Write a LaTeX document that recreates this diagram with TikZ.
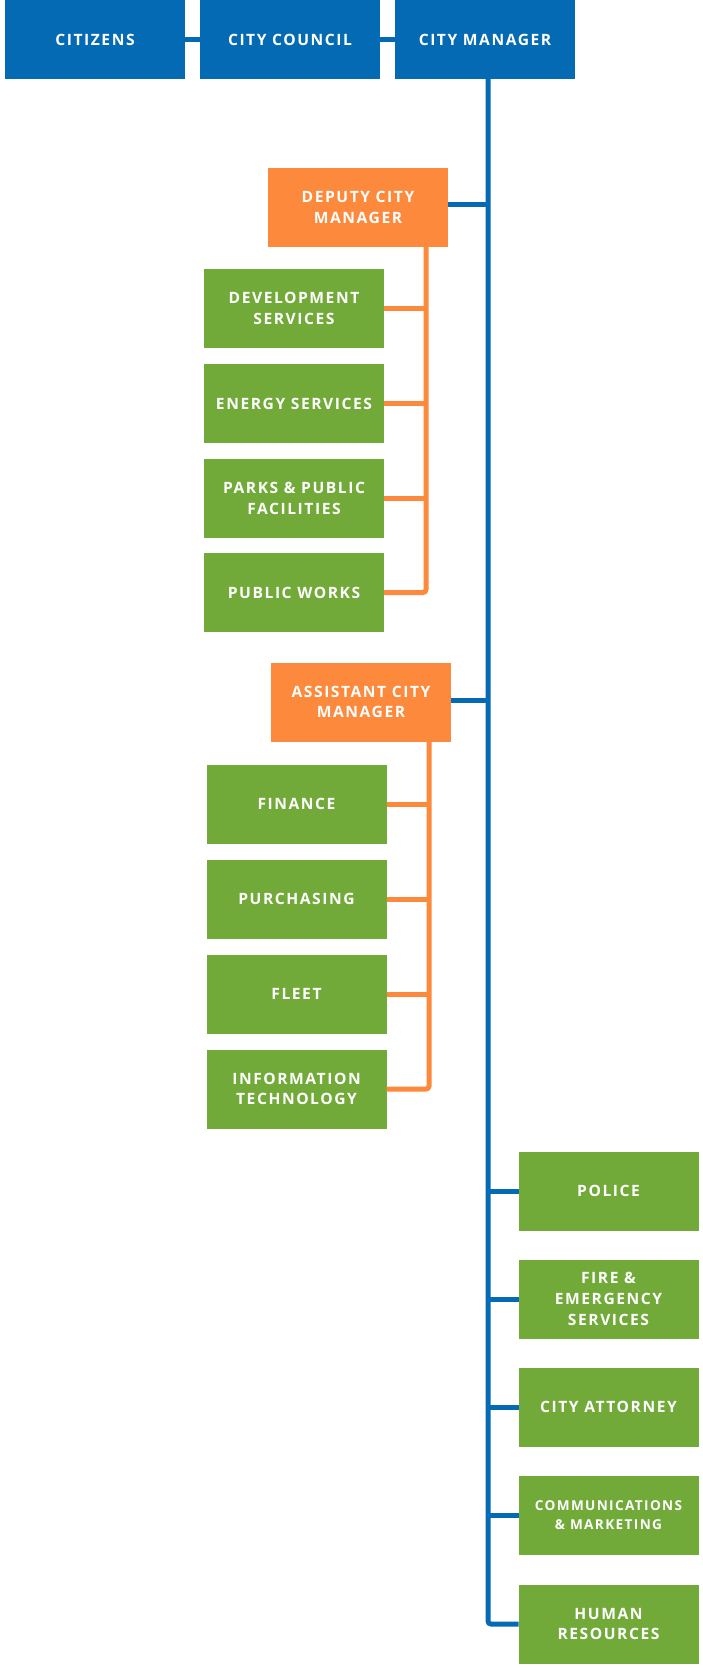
\documentclass[tikz,border=0pt]{standalone}
\usepackage{fontspec}
\setmainfont{Open Sans}[LetterSpace=10]
\definecolor{cblue}{RGB}{4,106,179}
\definecolor{corange}{RGB}{253,137,61}
\definecolor{cgreen}{RGB}{113,170,56}
\begin{document}
\begin{tikzpicture}[x=1pt,y=-1pt,
  box/.style={minimum width=180pt, minimum height=79pt, inner sep=0pt, outer sep=0pt,
    text=white, align=center, font=\bfseries\fontsize{15.6}{20.7}\selectfont},
  bluebox/.style={box, fill=cblue},
  orangebox/.style={box, fill=corange},
  greenbox/.style={box, fill=cgreen},
  bline/.style={draw=cblue, line width=5pt},
  oline/.style={draw=corange, line width=5pt}]
\useasboundingbox[fill=white] (0,0) rectangle (703,1669);
% top row
\node[bluebox] (cit) at (95,39.5) {CITIZENS};
\node[bluebox] (council) at (290,39.5) {CITY COUNCIL};
\node[bluebox] (mgr) at (485,39.5) {CITY MANAGER};
% deputy group
\node[orangebox] (dep) at (358,207.5) {DEPUTY CITY\\MANAGER};
\node[greenbox] (dev) at (294,308.5) {DEVELOPMENT\\SERVICES};
\node[greenbox] (energy) at (294,403.5) {ENERGY SERVICES};
\node[greenbox] (parks) at (294,498.5) {PARKS \& PUBLIC\\FACILITIES};
\node[greenbox] (pw) at (294,592.5) {PUBLIC WORKS};
% assistant group
\node[orangebox] (asst) at (361,702) {ASSISTANT CITY\\MANAGER};
\node[greenbox] (fin) at (296.5,804) {FINANCE};
\node[greenbox] (pur) at (296.5,899) {PURCHASING};
\node[greenbox] (fleet) at (296.5,994) {FLEET};
\node[greenbox] (it) at (296.5,1089) {INFORMATION\\TECHNOLOGY};
% right column
\node[greenbox] (police) at (608.5,1191) {POLICE};
\node[greenbox] (fire) at (608.5,1299) {FIRE \&\\EMERGENCY\\SERVICES};
\node[greenbox] (atty) at (608.5,1407) {CITY ATTORNEY};
\node[greenbox, font=\bfseries\fontsize{13.6}{18.5}\selectfont] (comm) at (608.5,1515) {COMMUNICATIONS\\\& MARKETING};
\node[greenbox] (hr) at (608.5,1624) {HUMAN\\RESOURCES};
% connectors
\coordinate (trunk) at (488,79);
\coordinate (dvx) at (426,0);
\coordinate (avx) at (429,0);
\draw[bline] (cit.east) -- (council.west);
\draw[bline] (council.east) -- (mgr.west);
\draw[bline, rounded corners=3pt] (trunk) |- (hr.west);
\draw[bline] ([yshift=3pt]dep.east) -- ([yshift=3pt]dep.east -| trunk);
\draw[bline] ([yshift=2pt]asst.east) -- ([yshift=2pt]asst.east -| trunk);
\foreach \n in {police,fire,atty,comm}
  \draw[bline] (\n.west) -- (\n.west -| trunk);
\draw[oline, rounded corners=3pt] (dep.south -| dvx) |- (pw.east);
\foreach \n in {dev,energy,parks}
  \draw[oline] (\n.east) -- (\n.east -| dvx);
\draw[oline, rounded corners=3pt] (asst.south -| avx) |- (it.east);
\foreach \n in {fin,pur,fleet}
  \draw[oline] (\n.east) -- (\n.east -| avx);
\end{tikzpicture}
\end{document}
